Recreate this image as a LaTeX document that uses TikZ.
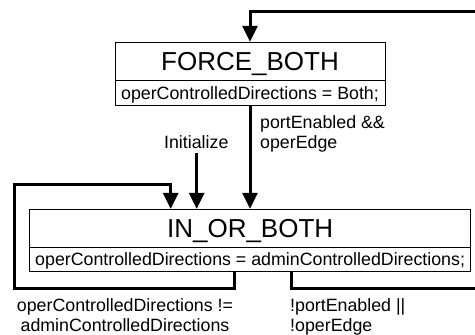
\documentclass[tikz,border=0pt]{standalone}
\usepackage{fontspec}
\setmainfont{Liberation Sans}
\usetikzlibrary{arrows.meta}

\tikzset{
  statetitle/.style={draw, line width=0.9pt, inner sep=0pt,
    font=\fontsize{26}{30}\selectfont, text height=18.6pt, text depth=0pt},
  stateact/.style={draw, line width=0.9pt, inner sep=0pt,
    font=\fontsize{17.8}{20}\selectfont, text height=12.75pt, text depth=0pt},
  conn/.style={line width=3pt},
  arr/.style={conn, -{Triangle[length=16pt,width=15pt]}},
  lbl/.style={font=\fontsize{17.8}{20}\selectfont, inner sep=0pt}
}

\begin{document}
\begin{tikzpicture}[x=1pt, y=-1pt]
  \useasboundingbox (0,0) rectangle (475,335);

  % state FORCE_BOTH
  \node[statetitle, minimum width=270pt, minimum height=38.4pt] (fb) at (250,61.5) {FORCE\_BOTH};
  \node[stateact, minimum width=270pt, minimum height=25pt] (fba) at (250,93.2) {operControlledDirections = Both;};

  % state IN_OR_BOTH
  \node[statetitle, minimum width=441pt, minimum height=37.7pt] (io) at (250.15,228.15) {IN\_OR\_BOTH};
  \node[stateact, minimum width=441pt, minimum height=24pt] (ioa) at (250.15,259) {operControlledDirections = adminControlledDirections;};

  % labels (base anchor of a two-line node sits on its last line)
  \node[lbl, anchor=base] (initlbl) at (196.3,148.5) {Initialize};
  \node[lbl, anchor=base west, align=left] (fwdlbl) at (260,148.5) {portEnabled \&\&\\operEdge};
  \node[lbl, anchor=base, align=center] (looplbl) at (125,331.7) {operControlledDirections !=\\adminControlledDirections};
  \node[lbl, anchor=base west, align=left] (backlbl) at (290,331.7) {!portEnabled ||\\!operEdge};

  % helper coordinates for connector routes
  \coordinate (initstart) at (196.7,152.7);
  \coordinate (loopx) at (234.3,0);
  \coordinate (loopin) at (170.7,0);
  \coordinate (backx) at (291,0);

  % initial transition
  \draw[arr] (initstart) -- (initstart |- io.north);

  % FORCE_BOTH -> IN_OR_BOTH
  \draw[arr] (fba.south) -- (fba.south |- io.north);

  % IN_OR_BOTH self loop
  \draw[arr] (ioa.south -| loopx) -- (234.3,288) -- (14,288) -- (14,184.5)
    -- (170.7,184.5) -- (io.north -| loopin);

  % IN_OR_BOTH -> FORCE_BOTH
  \draw[arr] (ioa.south -| backx) -- (291,288) -- (480,288) -- (480,11.7)
    -- (250,11.7) -- (fb.north);
\end{tikzpicture}
\end{document}
